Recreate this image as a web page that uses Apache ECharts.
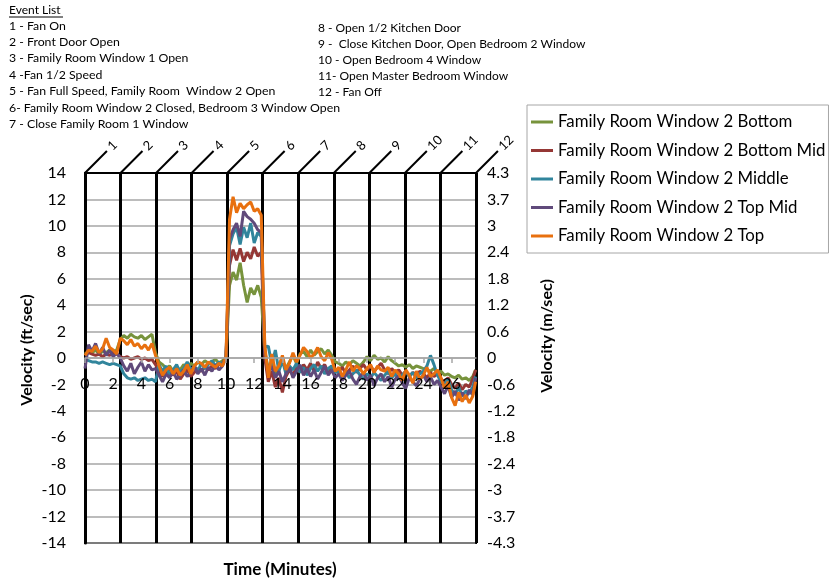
<!DOCTYPE html>
<html>
<head>
<meta charset="utf-8">
<script src="https://cdn.jsdelivr.net/npm/echarts@6/dist/echarts.min.js"></script>
<style>
html,body{margin:0;padding:0;background:#fff;}
#chart{width:837px;height:583px;}
</style>
</head>
<body>
<div id="chart"></div>
<script>
// ---- Data ----
const times = [
0,0.25,0.5,0.75,1,1.25,1.5,1.75,2,2.25,
2.5,2.75,3,3.25,3.5,3.75,4,4.25,4.5,4.75,
5,5.25,5.5,5.75,6,6.25,6.5,6.75,7,7.25,
7.5,7.75,8,8.25,8.5,8.75,9,9.25,9.5,9.75,
10,10.25,10.5,10.75,11,11.25,11.5,11.75,12,12.25,
12.5,12.75,13,13.25,13.5,13.75,14,14.25,14.5,14.75,
15,15.25,15.5,15.75,16,16.25,16.5,16.75,17,17.25,
17.5,17.75,18,18.25,18.5,18.75,19,19.25,19.5,19.75,
20,20.25,20.5,20.75,21,21.25,21.5,21.75,22,22.25,
22.5,22.75,23,23.25,23.5,23.75,24,24.25,24.5,24.75,
25,25.25,25.5,25.75,26,26.25,26.5,26.75,27,27.25,
27.5,27.7];

const winBottom = [
0.3,0.5,0.4,0.6,0.3,0.5,0.4,0.6,0.5,0.6,
1.4,1.7,1.5,1.8,1.6,1.5,1.7,1.4,1.6,1.8,
0.4,-0.3,-0.5,-0.8,-0.6,-1.0,-0.7,-0.9,-0.5,-0.8,
-0.4,-0.6,-0.3,-0.5,-0.2,-0.4,-0.3,-0.1,-0.4,-0.2,
0.0,5.5,6.5,5.9,7.2,5.5,4.2,5.3,4.8,5.5,
4.6,0.5,-0.8,-0.3,-1.2,-0.5,-0.2,-0.8,-0.3,0.2,
-0.4,0.3,0.5,0.1,0.6,0.2,0.5,0.7,0.3,0.6,
0.2,-0.3,-0.4,-0.6,-0.3,-0.5,-0.2,-0.4,-0.6,-0.3,
0.1,-0.2,0.2,-0.1,0.0,-0.3,0.1,-0.2,-0.4,-0.6,
-0.5,-0.7,-0.5,-0.8,-0.6,-0.7,-0.8,-0.9,-1.0,-0.8,
-1.1,-1.0,-1.3,-1.2,-1.4,-1.5,-1.3,-1.6,-1.5,-1.7,
-1.4,-0.9];

const winBottomMid = [
0.2,0.4,0.3,0.2,0.3,0.1,0.3,0.2,0.4,0.3,
0.1,0.0,0.1,-0.1,0.0,0.1,-0.1,0.0,-0.2,-0.1,
-0.5,-1.0,-1.4,-1.1,-0.8,-1.3,-1.0,-1.6,-1.2,-0.9,
-1.4,-1.1,-0.8,-1.0,-0.7,-0.9,-0.6,-0.8,-0.5,-0.4,
0.0,7.0,8.2,7.4,8.3,7.3,8.0,7.5,8.4,7.7,
8.0,0.0,-1.8,-1.0,-2.2,-1.5,-2.6,-1.4,-0.9,-1.3,
-0.7,-1.1,-0.5,-0.9,-0.4,-1.0,-0.3,-0.8,-0.5,-1.1,
-0.6,-0.9,-1.0,-0.7,-1.2,-0.9,-0.6,-1.1,-0.8,-0.5,
-0.9,-0.6,-1.0,-0.7,-0.4,-0.9,-1.2,-0.8,-1.1,-0.9,
-1.3,-1.0,-1.4,-1.1,-1.3,-1.0,-1.2,-1.5,-1.1,-1.4,
-1.2,-1.6,-1.8,-1.5,-2.0,-2.3,-1.9,-2.4,-2.0,-2.2,
-1.6,-0.9];

const winMiddle = [
-0.1,-0.2,-0.3,-0.3,-0.4,-0.3,-0.4,-0.5,-0.4,-0.5,
-0.6,-1.2,-1.5,-1.6,-1.5,-1.7,-1.6,-1.5,-1.7,-1.6,
-1.8,-0.5,-1.0,-0.6,-1.3,-0.9,-0.5,-1.1,-0.8,-0.3,
-0.9,-0.6,-1.0,-0.4,-0.8,-0.5,-0.2,-0.6,-0.3,-0.5,
0.0,8.5,9.4,9.9,8.6,9.9,9.1,10.2,8.7,9.5,
9.2,0.8,0.9,-0.5,0.6,-1.0,-0.2,-1.2,-0.6,-0.9,
-0.4,-1.1,-0.7,-1.3,-0.8,-0.5,-1.0,-0.6,-1.2,-0.8,
-0.6,-1.1,-1.0,-1.4,-1.1,-1.5,-1.2,-0.9,-1.3,-1.6,
-1.2,-1.5,-1.1,-1.4,-1.7,-1.3,-1.0,-1.5,-1.2,-1.6,
-1.3,-1.0,-1.4,-1.1,-1.5,-1.2,-1.0,-0.6,0.2,-0.5,
-1.3,-1.8,-2.0,-1.6,-2.4,-2.8,-2.2,-2.9,-2.5,-2.7,
-2.2,-1.4];

const winTopMid = [
-0.8,1.0,0.5,1.1,0.3,0.8,0.2,0.6,0.1,0.4,
0.0,-0.6,-1.0,-0.4,-1.2,-0.7,-0.3,-1.0,-0.5,-0.9,
-0.8,-1.3,-1.8,-1.2,-1.5,-1.0,-1.6,-1.3,-0.9,-1.4,
-1.1,-0.6,-1.2,-0.8,-1.3,-0.7,-1.0,-0.5,-0.9,-0.6,
0.0,9.0,9.7,10.2,9.2,11.1,10.7,10.5,10.2,9.7,
9.5,0.5,-1.2,-0.6,-1.5,-1.0,-1.8,-1.2,-0.7,-1.5,
-1.0,-0.5,-1.3,-0.8,-1.4,-0.9,-1.6,-1.1,-0.6,-1.3,
-0.9,-1.5,-1.2,-1.7,-1.3,-1.0,-1.6,-2.0,-1.4,-1.1,
-1.7,-1.3,-2.1,-1.5,-1.2,-1.8,-1.4,-2.2,-1.6,-1.3,
-1.9,-2.3,-1.5,-1.8,-2.1,-1.6,-1.3,-1.8,-1.4,-2.0,
-1.7,-2.2,-2.7,-2.1,-3.0,-2.5,-3.2,-2.6,-3.1,-2.4,
-2.8,-1.5];

const winTop = [
0.2,0.6,0.5,0.9,0.4,0.7,1.5,0.8,0.6,0.3,
1.5,1.3,1.0,1.4,0.9,1.1,0.7,1.0,0.6,1.1,
0.2,-0.6,-1.3,-0.9,-0.7,-1.2,-0.8,-1.3,-1.0,-0.5,
-1.2,-0.6,-0.3,-0.4,-0.7,-0.3,-0.5,-0.7,-0.4,-0.6,
0.1,10.5,12.2,11.0,11.7,11.3,11.6,11.8,11.1,11.3,
10.8,1.0,-1.5,0.3,-1.0,-0.6,0.2,-0.9,-0.4,0.4,
-0.3,0.2,0.8,0.5,0.0,0.3,0.8,0.1,-0.2,0.4,
-0.1,-1.0,-0.7,-1.4,-0.9,-0.3,-1.0,-0.6,-0.8,-1.2,
-0.8,-0.5,-1.1,-0.6,-0.9,-1.0,-0.7,-1.4,-0.9,-1.2,
-1.7,-0.9,-1.3,-1.9,-1.0,-1.6,-1.3,-0.7,-1.4,-1.2,
-0.9,-1.5,-2.3,-1.8,-3.0,-3.6,-2.6,-3.3,-2.8,-3.4,
-2.9,-1.8];

const seriesNames = [
'Family Room Window 2 Bottom',
'Family Room Window 2 Bottom Mid',
'Family Room Window 2 Middle',
'Family Room Window 2 Top Mid',
'Family Room Window 2 Top'];
const seriesColors = ['#77933C','#953735','#31859C','#604A7B','#E8700F'];

const ftTicks = [-14,-12,-10,-8,-6,-4,-2,0,2,4,6,8,10,12,14];
const mTickLabels = ['-4.3','-3.7','-3','-2.4','-1.8','-1.2','-0.6','0','0.6','1.2','1.8','2.4','3','3.7','4.3'];
const eventNumbers = ['1','2','3','4','5','6','7','8','9','10','11','12'];

const eventListLeft = [
'1 - Fan On',
'2 - Front Door Open',
'3 - Family Room Window 1 Open',
'4 -Fan 1/2 Speed',
'5 - Fan Full Speed, Family Room  Window 2 Open',
'6- Family Room Window 2 Closed, Bedroom 3 Window Open',
'7 - Close Family Room 1 Window'];
const eventListRight = [
'8 - Open 1/2 Kitchen Door',
'9 -  Close Kitchen Door, Open Bedroom 2 Window',
'10 - Open Bedroom 4 Window',
'11- Open Master Bedroom Window',
'12 - Fan Off'];

// ---- Chart ----
const FONT = 'Lato';
const chart = echarts.init(document.getElementById('chart'), null, {renderer: 'canvas'});

const dataSets = [winBottom, winBottomMid, winMiddle, winTopMid, winTop];
const seriesList = dataSets.map((vals, k) => ({
  name: seriesNames[k],
  type: 'line',
  xAxisIndex: 0,
  yAxisIndex: 0,
  color: seriesColors[k],
  showSymbol: false,
  symbol: 'none',
  lineStyle: {width: 3, color: seriesColors[k]},
  animation: false,
  data: times.map((t, i) => [t, vals[i]])
}));

const graphics = [];
graphics.push({type: 'text', x: 9, y: 10, style: {text: 'Event List', fontSize: 12, fontFamily: FONT, fill: '#000', verticalAlign: 'middle'}});
graphics.push({type: 'line', shape: {x1: 9, y1: 17, x2: 63, y2: 17}, style: {stroke: '#000', lineWidth: 1}});
const leftYs = [26, 42, 58, 75, 91, 108, 124];
eventListLeft.forEach((s, i) => graphics.push({type: 'text', x: 9, y: leftYs[i], style: {text: s, fontSize: 12.3, fontFamily: FONT, fill: '#000', verticalAlign: 'middle'}}));
const rightYs = [28, 44, 60, 76, 92];
eventListRight.forEach((s, i) => graphics.push({type: 'text', x: 318, y: rightYs[i], style: {text: s, fontSize: 12, fontFamily: FONT, fill: '#000', verticalAlign: 'middle'}}));
graphics.push({type: 'text', x: 280, y: 570, style: {text: 'Time (Minutes)', fontSize: 17, fontWeight: 'bold', fontFamily: FONT, fill: '#000', align: 'center', verticalAlign: 'middle'}});

const option = {
  backgroundColor: '#fff',
  animation: false,
  textStyle: {fontFamily: FONT},
  grid: {left: 85, right: 361, top: 173, bottom: 40, show: true, borderColor: '#000', borderWidth: 2, backgroundColor: 'transparent'},
  legend: {
    orient: 'vertical',
    left: 527, top: 105,
    padding: [8, 3, 8, 4],
    itemGap: 10.5,
    itemWidth: 22, itemHeight: 3,
    icon: 'rect',
    borderColor: '#a6a6a6', borderWidth: 1,
    textStyle: {fontSize: 16.8, fontFamily: FONT, color: '#000', lineHeight: 18},
    data: seriesNames
  },
  xAxis: [
    {
      type: 'value', position: 'bottom', min: 0, max: 27.73, interval: 2,
      offset: -185,
      z: 10,
      axisLine: {show: true, onZero: false, lineStyle: {color: '#a6a6a6', width: 1.5}},
      axisTick: {show: true, length: 5, lineStyle: {color: '#a6a6a6', width: 1.5}},
      axisLabel: {fontSize: 16, color: '#000', margin: 18, fontFamily: FONT, showMaxLabel: false, showMinLabel: true},
      splitLine: {show: false}
    },
    {
      type: 'value', position: 'top', min: 0, max: 11, interval: 1,
      axisLine: {show: true, onZero: false, lineStyle: {color: '#000', width: 2}},
      axisTick: {show: false},
      splitLine: {show: true, lineStyle: {color: '#000', width: 3}},
      axisLabel: {
        rotate: -45, margin: 0, color: '#000', showMinLabel: true, showMaxLabel: true,
        formatter: v => '{ln|}{n|' + eventNumbers[Math.round(v)] + '}',
        rich: {
          ln: {width: 31, height: 2, backgroundColor: '#000'},
          n: {fontSize: 13, fontFamily: FONT, color: '#000', padding: [0, 0, 0, 4]}
        }
      }
    }
  ],
  yAxis: [
    {
      type: 'value', position: 'left', min: -14, max: 14, interval: 2,
      name: 'Velocity (ft/sec)', nameLocation: 'middle', nameGap: 50, nameRotate: 90,
      nameTextStyle: {fontSize: 16, fontWeight: 'bold', color: '#000', fontFamily: FONT, padding: [0, 0, 0, 16]},
      axisLine: {show: true, onZero: false, lineStyle: {color: '#000', width: 3}},
      axisTick: {show: false},
      axisLabel: {fontSize: 16, color: '#000', margin: 19, fontFamily: FONT},
      splitLine: {show: true, lineStyle: {color: '#a6a6a6', width: 1.5}}
    },
    {
      type: 'value', position: 'right', min: -14, max: 14, interval: 2,
      name: 'Velocity (m/sec)', nameLocation: 'middle', nameGap: 63, nameRotate: 90,
      nameTextStyle: {fontSize: 16, fontWeight: 'bold', color: '#000', fontFamily: FONT, padding: [0, 0, 0, 44]},
      axisLine: {show: true, onZero: false, lineStyle: {color: '#000', width: 2}},
      axisTick: {show: false},
      axisLabel: {fontSize: 16, color: '#000', margin: 11, fontFamily: FONT,
        formatter: v => mTickLabels[ftTicks.indexOf(Math.round(v))]},
      splitLine: {show: false}
    }
  ],
  graphic: graphics,
  series: seriesList
};
chart.setOption(option);
</script>
</body>
</html>
